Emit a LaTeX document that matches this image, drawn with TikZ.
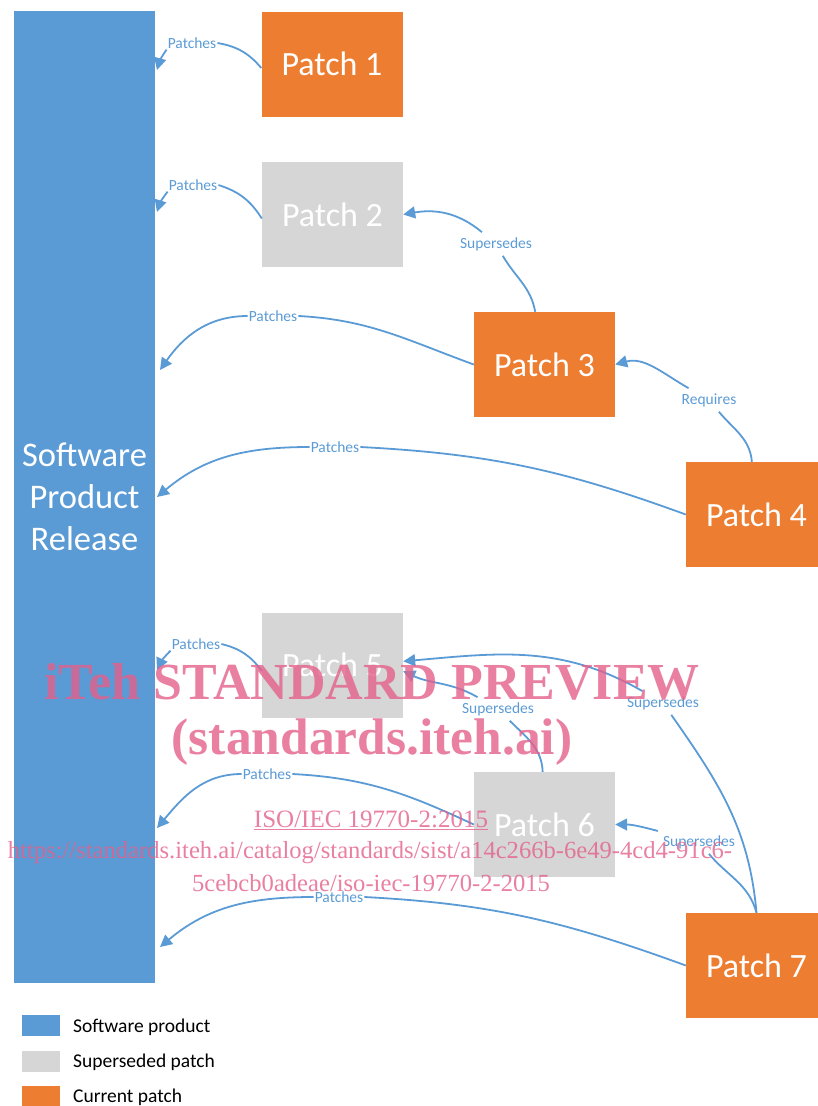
\documentclass[tikz,border=0pt]{standalone}
\usepackage{fontspec}
\setmainfont{Carlito}
\newfontfamily\wmfont{Liberation Serif}
\usetikzlibrary{arrows.meta}
\definecolor{B}{RGB}{91,155,213}
\definecolor{O}{RGB}{237,125,49}
\definecolor{S}{RGB}{214,214,214}
\definecolor{W}{RGB}{228,96,138}

\begin{document}
\begin{tikzpicture}[x=1pt,y=1pt,
  patch/.style={minimum width=141pt,minimum height=105pt,inner sep=0pt,text=white,font=\fontsize{34}{40}\selectfont},
  cur/.style={patch,fill=O},
  old/.style={patch,fill=S},
  lbl/.style={text=B,inner sep=1pt,font=\fontsize{15.5}{18}\selectfont},
  rel/.style={lbl,inner sep=5pt},
  link/.style={B,line width=1.8pt},
  arr/.style={link,-{Triangle[length=12pt,width=12pt]}},
  key/.style={minimum width=38pt,minimum height=21pt,inner sep=0pt},
  keytext/.style={anchor=west,inner sep=0pt,font=\fontsize{19.5}{22}\selectfont},
  wm/.style={W,text opacity=0.8,font=\wmfont}]
  \useasboundingbox (0,0) rectangle (817,-1106);

  \node[fill=B,minimum width=141pt,minimum height=972pt,text=white,align=center,
    font=\fontsize{34.5}{42}\selectfont] (spr) at (84.5,-497) {Software\\Product\\Release};

  \node[cur] (p1) at (332,-64) {Patch 1};
  \node[old] (p2) at (332.5,-214.5) {Patch 2};
  \node[cur] (p3) at (544.5,-364.5) {Patch 3};
  \node[cur] (p4) at (756.5,-514.5) {Patch 4};
  \node[old] (p5) at (332.5,-665) {Patch 5};
  \node[old] (p6) at (544.5,-824.5) {Patch 6};
  \node[cur] (p7) at (756.5,-965.5) {Patch 7};

  \coordinate (b1) at (157,-70);
  \coordinate (b2) at (157,-212);
  \coordinate (b3) at (160,-370);
  \coordinate (b4) at (157,-497);
  \coordinate (b5) at (157,-670);
  \coordinate (b6) at (157,-828);
  \coordinate (b7) at (160,-947);

  % patches
  \node[lbl] (l1) at (192,-43) {Patches};
  \draw[link] ([yshift=-4pt]p1.west) to[bend right=20] (l1.east);
  \draw[arr] (l1.south west) to[bend right=10] (b1);
  \node[lbl] (l2) at (193,-185) {Patches};
  \draw[link] ([yshift=-4pt]p2.west) to[bend right=20] (l2.east);
  \draw[arr] (l2.south west) to[bend right=10] (b2);
  \node[lbl] (l3) at (273,-316) {Patches};
  \draw[link] (p3.west) to[out=160,in=-3] (l3.east);
  \draw[arr] (l3.west) to[out=180,in=55] (b3);
  \node[lbl] (l4) at (335,-447) {Patches};
  \draw[link] (p4.west) to[out=160,in=-3] (l4.east);
  \draw[arr] (l4.west) to[out=180,in=40] (b4);
  \node[lbl] (l5) at (196,-644) {Patches};
  \draw[link] ([yshift=-6pt]p5.west) to[bend right=20] (l5.east);
  \draw[arr] (l5.south west) to[bend right=10] (b5);
  \node[lbl] (l6) at (267,-774) {Patches};
  \draw[link] (p6.west) to[out=155,in=-3] (l6.east);
  \draw[arr] (l6.west) to[out=180,in=50] (b6);
  \node[lbl] (l7) at (339,-897) {Patches};
  \draw[link] (p7.west) to[out=160,in=-3] (l7.east);
  \draw[arr] (l7.west) to[out=180,in=40] (b7);

  % supersedes / requires
  \node[rel] (s32) at (496,-244) {Supersedes};
  \draw[link] (p3) to[out=100,in=-60] (s32);
  \draw[arr] (s32) to[out=140,in=10] (p2.east);
  \node[rel] (r43) at (709,-400) {Requires};
  \draw[link] (p4) to[out=95,in=-50] (r43);
  \draw[arr] (r43) to[out=150,in=15] (p3.east);
  \node[rel] (s65) at (498,-709) {Supersedes};
  \draw[link] (p6) to[out=92,in=-45] (s65);
  \draw[arr] (s65) to[out=150,in=-25] (p5.-5);
  \node[rel] (s75) at (663,-703) {Supersedes};
  \draw[link] (p7.north) to[out=95,in=-55] (s75);
  \draw[arr] (s75) to[out=150,in=5] (p5.3);
  \node[rel] (s76) at (699,-842) {Supersedes};
  \draw[link] (p7.north) to[out=105,in=-50] (s76);
  \draw[arr] (s76) to[out=165,in=0] (p6.east);

  % legend
  \node[key,fill=B] (k1) at (41,-1025.5) {};
  \node[key,fill=S] (k2) at (41,-1061) {};
  \node[key,fill=O] (k3) at (41,-1096) {};
  \node[keytext] (t1) at (73,-1027) {Software product};
  \node[keytext] (t2) at (73,-1062) {Superseded patch};
  \node[keytext] (t3) at (73,-1097) {Current patch};

  % watermark
  \node[wm,font=\wmfont\bfseries\fontsize{52}{56}\selectfont] (w1) at (372,-682) {iTeh STANDARD PREVIEW};
  \node[wm,font=\wmfont\bfseries\fontsize{51.5}{56}\selectfont] (w2) at (372,-742) {(standards.iteh.ai)};
  \node[wm,font=\wmfont\fontsize{25}{28}\selectfont] (w3) at (371,-820) {\underline{ISO/IEC 19770-2:2015}};
  \node[wm,font=\wmfont\fontsize{24.6}{28}\selectfont] (w4) at (370,-853) {https://standards.iteh.ai/catalog/standards/sist/a14c266b-6e49-4cd4-91c6-};
  \node[wm,font=\wmfont\fontsize{24.6}{28}\selectfont] (w5) at (371,-883) {5cebcb0adeae/iso-iec-19770-2-2015};
\end{tikzpicture}
\end{document}
